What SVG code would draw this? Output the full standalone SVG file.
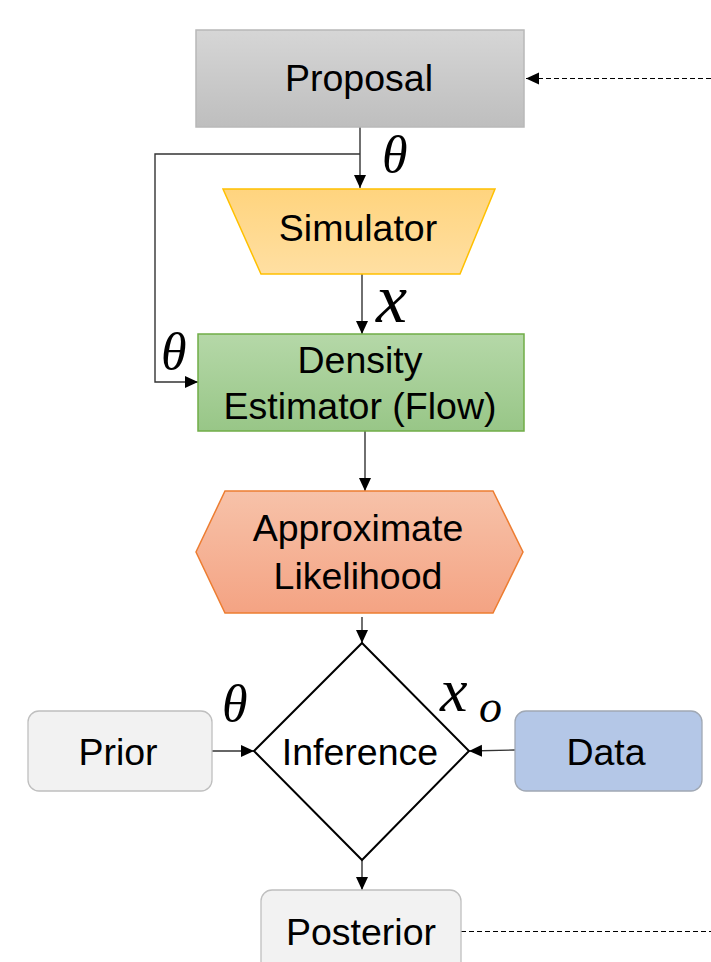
<svg xmlns="http://www.w3.org/2000/svg" width="711" height="962" viewBox="0 0 711 962">
<defs>
<linearGradient id="gGrey" x1="0" y1="0" x2="0" y2="1"><stop offset="0" stop-color="#d6d6d6"/><stop offset="1" stop-color="#bebebe"/></linearGradient>
<linearGradient id="gYel" x1="0" y1="0" x2="0" y2="1"><stop offset="0" stop-color="#ffd47e"/><stop offset="1" stop-color="#ffdfa2"/></linearGradient>
<linearGradient id="gGrn" x1="0" y1="0" x2="0" y2="1"><stop offset="0" stop-color="#b5d8a8"/><stop offset="1" stop-color="#98c687"/></linearGradient>
<linearGradient id="gOr" x1="0" y1="0" x2="0" y2="1"><stop offset="0" stop-color="#f7c2a9"/><stop offset="1" stop-color="#f4a383"/></linearGradient>
<marker id="ah" markerWidth="14" markerHeight="14" refX="13" refY="7" orient="auto" markerUnits="userSpaceOnUse"><path d="M0,1 L13,7 L0,13 Z" fill="#000"/></marker>
<style>
.lbl{font-family:"Liberation Sans",Arial,sans-serif;font-size:37.5px;fill:#000;text-anchor:middle}
.math{font-family:"Liberation Serif","Times New Roman",serif;font-style:italic;fill:#000}
.conn{fill:none;stroke:#333;stroke-width:1.4}
.dash{fill:none;stroke:#000;stroke-width:1.2;stroke-dasharray:5 3}
</style>
</defs>
<g id="connectors">
<path class="dash" d="M711,78.5 L526,78.5" marker-end="url(#ah)"/>
<path class="conn" d="M360,127 L360,188" marker-end="url(#ah)"/>
<path class="conn" d="M360,154 L155,154 L155,382 L198,382" marker-end="url(#ah)"/>
<path class="conn" d="M362,274 L362,334" marker-end="url(#ah)"/>
<path class="conn" d="M365,431 L365,491" marker-end="url(#ah)"/>
<path class="conn" d="M362,617 L362,643" marker-end="url(#ah)"/>
<path class="conn" d="M212,751 L254,751" marker-end="url(#ah)"/>
<path class="conn" d="M515,750 L469,751" marker-end="url(#ah)"/>
<path class="conn" d="M362,860 L362,890" marker-end="url(#ah)"/>
<path class="dash" d="M461,931.5 L711,931.5"/>
</g>
<g id="proposal">
<rect x="196" y="30" width="328" height="97" fill="url(#gGrey)" stroke="#b8b8b8" stroke-width="1.5"/>
<text class="lbl" x="359" y="91">Proposal</text>
</g>
<g id="simulator">
<path d="M223,189 L495,189 L460,274 L261,274 Z" fill="url(#gYel)" stroke="#ffc000" stroke-width="1.5"/>
<text class="lbl" x="358" y="241">Simulator</text>
</g>
<g id="density">
<rect x="198" y="334" width="326" height="97" fill="url(#gGrn)" stroke="#70ad47" stroke-width="1.5"/>
<text class="lbl" x="360" y="373">Density</text>
<text class="lbl" x="360" y="419">Estimator (Flow)</text>
</g>
<g id="likelihood">
<path d="M225,491 L493,491 L523,552 L493,613 L225,613 L196,552 Z" fill="url(#gOr)" stroke="#ed7d31" stroke-width="1.5"/>
<text class="lbl" x="358" y="541">Approximate</text>
<text class="lbl" x="358" y="589">Likelihood</text>
</g>
<g id="inference">
<path d="M362,643 L469,751 L362,860 L254,751 Z" fill="#fff" stroke="#000" stroke-width="2"/>
<text class="lbl" x="360" y="765">Inference</text>
</g>
<g id="prior">
<rect x="28" y="711" width="184" height="80" rx="11" fill="#f2f2f2" stroke="#bfbfbf" stroke-width="1.3"/>
<text class="lbl" x="118" y="765">Prior</text>
</g>
<g id="data">
<rect x="515" y="711" width="187" height="80" rx="11" fill="#b4c7e7" stroke="#a0a8b4" stroke-width="1.3"/>
<text class="lbl" x="606" y="765">Data</text>
</g>
<g id="posterior">
<rect x="261" y="890" width="200" height="90" rx="11" fill="#f2f2f2" stroke="#bfbfbf" stroke-width="1.3"/>
<text class="lbl" x="361" y="945">Posterior</text>
</g>
<g id="labels">
<text class="math" x="382" y="172" font-size="52">θ</text>
<text class="math" x="161" y="369" font-size="52">θ</text>
<text class="math" x="222" y="721" font-size="52">θ</text>
<text class="math" x="376" y="322" font-size="70">x</text>
<text class="math" x="440" y="711" font-size="62">x</text>
<text class="math" x="479" y="722" font-size="46">o</text>
</g>
</svg>
